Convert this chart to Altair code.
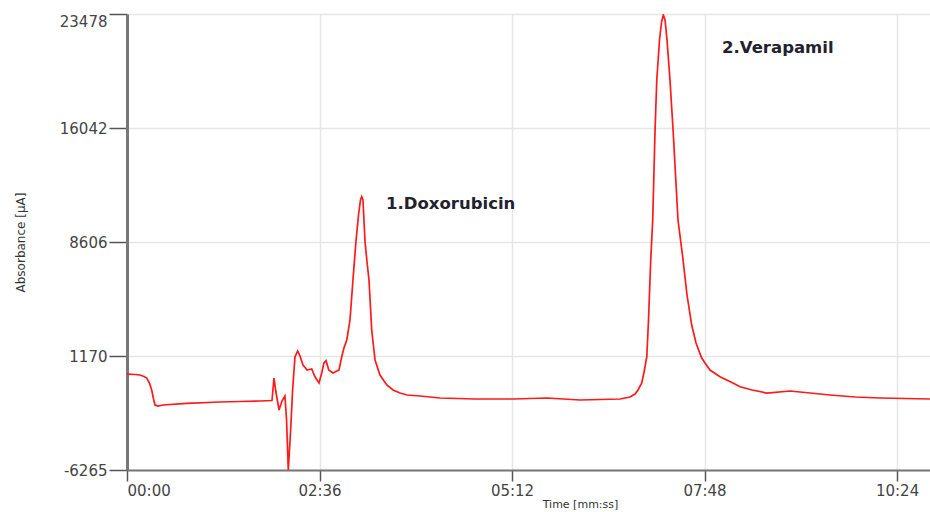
import altair as alt
import pandas as pd

# Chromatogram trace: time in seconds, absorbance in µA
time_s = [0, 6.5, 10.5, 13.8, 16.0, 18.2, 20.0, 21.5, 22.7, 25.1, 29.2, 48.4, 75.4, 91.6,
          107.8, 117.5, 119.1, 120.7, 123.2, 125.6, 128.0, 129.3, 130.7, 132.7, 134.2,
          136.1, 138.3, 140.2, 142.6, 145.9, 149.7, 152.4, 155.6, 157.8, 159.6, 161.3,
          163.5, 166.9, 171.8, 174.0, 175.8, 178.1, 180.7, 183.1, 185.5, 187.6, 189.2,
          190.2, 191.2, 192.9, 194.5, 196.1, 198.3, 201.0, 205.0, 210.5, 215.6, 221.2,
          226.9, 237.4, 253.6, 282.0, 312.8, 340.4, 367.1, 399.5, 407.6, 411.7, 414.1,
          417.1, 419.0, 421.2, 422.6, 424.4, 426.0, 427.9, 429.3, 431.5, 433.2, 434.6,
          436.0, 437.6, 440.0, 442.5, 446.5, 450.6, 453.8, 457.6, 461.1, 465.7, 468.4,
          472.4, 480.5, 491.0, 496.8, 506.5, 518.6, 537.3, 553.5, 569.7, 590.0, 610.2,
          630.5, 650.7]
absorbance = [-5, -37, -69, -167, -265, -591, -1048, -1635, -2026, -2091, -2026, -1915, -1830,
              -1798, -1765, -1733, -265, -1178, -2352, -1765, -1439, -3004, -6265, -3526,
              -1048, 1105, 1497, 1170, 584, 257, 323, -199, -591, 61, 714, 864, 257, 61, 257,
              1124, 1692, 2214, 3518, 6127, 8606, 10367, 11346, 11561, 11346, 8606, 7301,
              6127, 2866, 909, -69, -722, -1048, -1244, -1374, -1439, -1570, -1635, -1635,
              -1570, -1700, -1635, -1505, -1309, -1048, -591, 126, 1104, 3518, 7432, 10041,
              15911, 19173, 21782, 22956, 23413, 23087, 21782, 19173, 15911, 10041, 7432,
              5149, 3192, 2018, 1040, 714, 257, -180, -591, -833, -1048, -1244, -1113, -1244,
              -1374, -1505, -1570, -1603, -1635]

y_ticks = [-6265, 1170, 8606, 16042, 23478]
x_ticks = [0, 156, 312, 468, 624]

peak_labels = ["1.Doxorubicin", "2.Verapamil"]
label_t = [209.9, 482.2]
label_v = [11085, 21260]

df = pd.DataFrame({"t": time_s, "v": absorbance})
ann = pd.DataFrame({"t": label_t, "v": label_v, "label": peak_labels})

x_enc = alt.X(
    "t:Q",
    scale=alt.Scale(domain=[0, 650.7], nice=False, zero=False),
    axis=alt.Axis(
        values=x_ticks,
        labelExpr="format(floor(datum.value/60),'02d') + ':' + format(datum.value % 60,'02d')",
        title="Time [mm:ss]",
        titleFont="DejaVu Sans",
        titleFontSize=11,
        titleFontWeight="normal",
        titleColor="#333333",
        titleX=453,
        titleY=28,
        titleAnchor="middle",
        titleAlign="center",
        labelFont="DejaVu Sans",
        labelFontSize=15,
        labelColor="#444444",
        labelPadding=2,
        labelAlign={"condition": {"test": "datum.value == 0", "value": "left"}, "value": "center"},
        tickSize=11,
        tickColor="#555555",
        tickWidth=1.5,
        domainColor="#777777",
        domainWidth=2,
        grid=True,
        gridColor="#e6e6e6",
        gridWidth=1.5,
    ),
)

y_enc = alt.Y(
    "v:Q",
    scale=alt.Scale(domain=[-6265, 23478], nice=False, zero=False),
    axis=alt.Axis(
        values=y_ticks,
        labelExpr="toString(datum.value)",
        title="Absorbance [µA]",
        titleFont="DejaVu Sans",
        titleFontSize=12,
        titleFontWeight="normal",
        titleColor="#333333",
        titleX=-100,
        titleY=228,
        titleAngle=-90,
        titleAlign="center",
        titleBaseline="bottom",
        labelFont="DejaVu Sans",
        labelFontSize=15,
        labelColor="#444444",
        labelPadding=2,
        labelBaseline={"condition": {"test": "datum.value == 23478", "value": "top"}, "value": "middle"},
        tickSize=18,
        tickColor="#555555",
        tickWidth=1.5,
        domainColor="#777777",
        domainWidth=3,
        grid=True,
        gridColor="#e6e6e6",
        gridWidth=1.5,
    ),
)

line = alt.Chart(df).mark_line(color="#ff1a1a", strokeWidth=1.7, clip=True).encode(
    x=x_enc, y=y_enc
)

text = alt.Chart(ann).mark_text(
    align="left", baseline="middle", font="DejaVu Sans", fontSize=16.5,
    fontWeight="bold", color="#22222e"
).encode(x="t:Q", y="v:Q", text="label:N")

chart = alt.layer(line, text).properties(
    width=803,
    height=456,
    autosize=alt.AutoSizeParams(type="none"),
    padding={"left": 127, "top": 14, "right": 0, "bottom": 42},
    background="white",
).configure_view(stroke=None)

chart.save("out.html", embed_options={"renderer": "svg", "actions": False})
